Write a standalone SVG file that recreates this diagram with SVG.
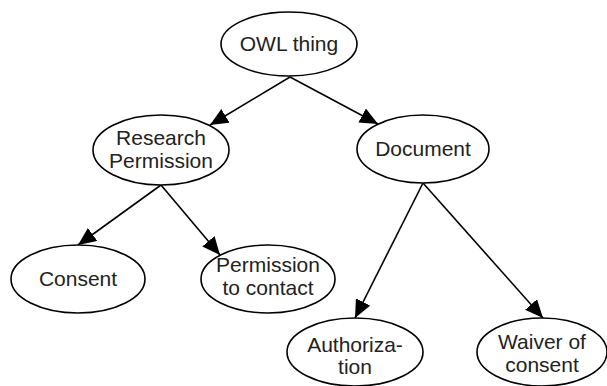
<svg xmlns="http://www.w3.org/2000/svg" width="607" height="386" viewBox="0 0 607 386">
<style>
.node ellipse{fill:#fff;stroke:#000;stroke-width:1.6}
.node text{font-family:"Liberation Sans",Arial,sans-serif;font-size:21px;fill:#222;text-anchor:middle}
.edge{stroke:#000;stroke-width:1.6;fill:none;marker-end:url(#arr)}
</style>
<defs>
<marker id="arr" markerUnits="userSpaceOnUse" markerWidth="20" markerHeight="18" refX="18" refY="8" orient="auto">
<path d="M0,0 L18,8 L0,16 Z" fill="#000"/>
</marker>
</defs>
<g id="connectors">
<line class="edge" x1="290" y1="77" x2="210" y2="125"/>
<line class="edge" x1="290" y1="77" x2="378" y2="124"/>
<line class="edge" x1="161" y1="185" x2="78" y2="245"/>
<line class="edge" x1="161" y1="185" x2="220" y2="255"/>
<line class="edge" x1="423" y1="183" x2="355" y2="318"/>
<line class="edge" x1="423" y1="183" x2="543" y2="318"/>
</g>
<g id="owl-thing" class="node"><ellipse cx="289" cy="44" rx="68" ry="32"/><text x="289" y="51">OWL thing</text></g>
<g id="research-permission" class="node"><ellipse cx="161" cy="150" rx="68" ry="35"/><text x="161" y="145">Research</text><text x="161" y="168">Permission</text></g>
<g id="document" class="node"><ellipse cx="423" cy="149" rx="66" ry="34"/><text x="423" y="156">Document</text></g>
<g id="consent" class="node"><ellipse cx="78" cy="279" rx="67" ry="34"/><text x="78" y="286">Consent</text></g>
<g id="permission-to-contact" class="node"><ellipse cx="268" cy="279" rx="67" ry="34"/><text x="268" y="272">Permission</text><text x="268" y="295">to contact</text></g>
<g id="authorization" class="node"><ellipse cx="355" cy="352" rx="68" ry="34"/><text x="355" y="352">Authoriza-</text><text x="355" y="374">tion</text></g>
<g id="waiver-of-consent" class="node"><ellipse cx="542" cy="352" rx="65" ry="34"/><text x="542" y="349">Waiver of</text><text x="542" y="372">consent</text></g>
</svg>
